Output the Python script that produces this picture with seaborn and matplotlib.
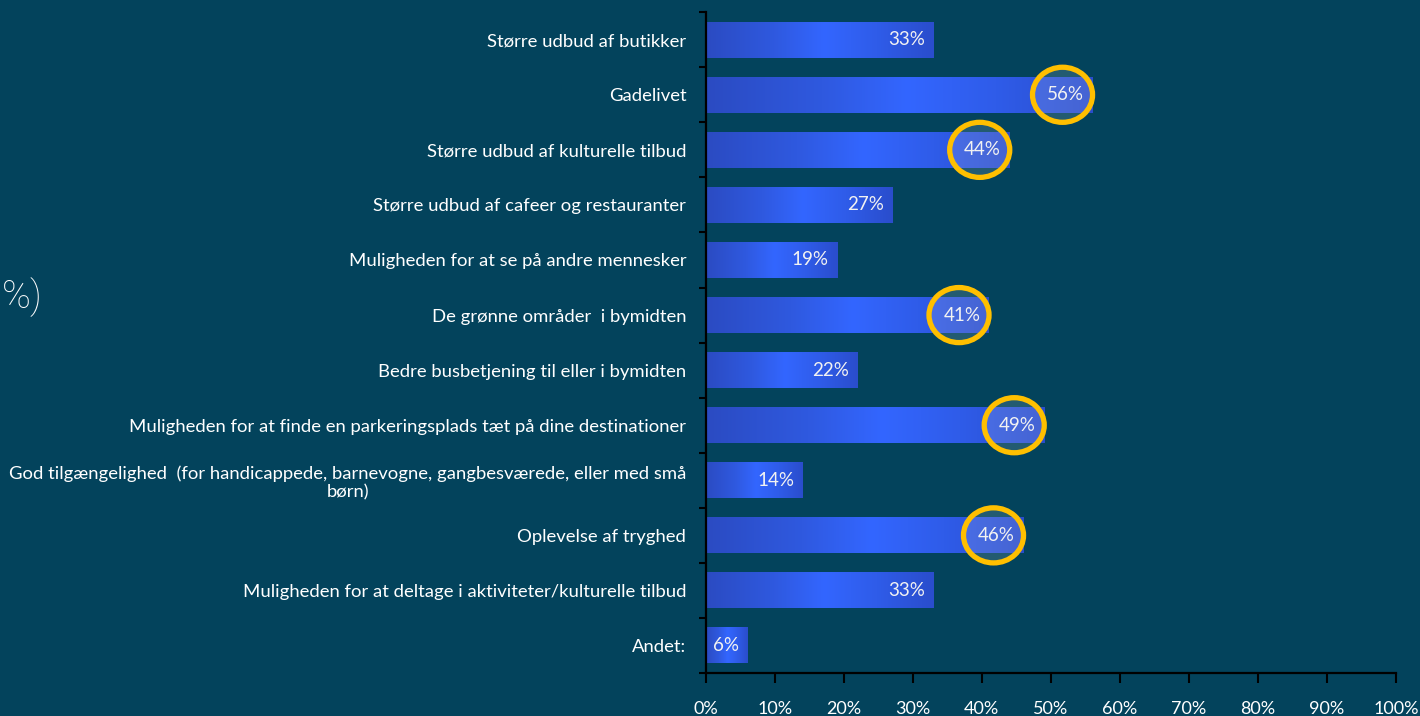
import matplotlib.pyplot as plt
import seaborn as sns
import pandas as pd
import numpy as np
from matplotlib.colors import LinearSegmentedColormap
from matplotlib.patches import Ellipse
from matplotlib.ticker import FixedLocator

# data
categories = [
    "Større udbud af butikker",
    "Gadelivet",
    "Større udbud af kulturelle tilbud",
    "Større udbud af cafeer og restauranter",
    "Muligheden for at se på andre mennesker",
    "De grønne områder  i bymidten",
    "Bedre busbetjening til eller i bymidten",
    "Muligheden for at finde en parkeringsplads tæt på dine destinationer",
    "God tilgængelighed  (for handicappede, barnevogne, gangbesværede, eller med små\nbørn)",
    "Oplevelse af tryghed",
    "Muligheden for at deltage i aktiviteter/kulturelle tilbud",
    "Andet:",
]
values = [33, 56, 44, 27, 19, 41, 22, 49, 14, 46, 33, 6]
highlighted = [False, True, True, False, False, True, False, True, False, True, False, False]
x_ticks = list(range(0, 101, 10))

bg = "#03435c"
sns.set_theme(style="white")
plt.rcParams["font.family"] = ["Lato", "DejaVu Sans"]

df = pd.DataFrame({"kategori": categories, "andel": values})

fig = plt.figure(figsize=(14.2, 7.16), dpi=100, facecolor=bg)
ax = fig.add_axes([0.497, 0.060, 0.486, 0.923])
ax.set_facecolor(bg)

sns.barplot(data=df, y="kategori", x="andel", orient="h", width=0.65,
            color="#3366ff", ax=ax)

# horizontal gradient inside each bar (dark - bright - dark)
grad = LinearSegmentedColormap.from_list(
    "bar", [(0.0, "#2b4bc2"), (0.3, "#2f59df"), (0.52, "#3366ff"),
            (0.75, "#2f5ce9"), (1.0, "#2a4dcc")])
for p in ax.patches:
    x0, y0 = p.get_x(), p.get_y()
    w, h = p.get_width(), p.get_height()
    p.set_facecolor("none")
    p.set_edgecolor("none")
    ax.imshow(np.linspace(0, 1, 256).reshape(1, -1), cmap=grad, aspect="auto",
              extent=[x0, x0 + w, y0 + h, y0], zorder=2, interpolation="bilinear")

for i, (v, hl) in enumerate(zip(values, highlighted)):
    ax.text(v - 1.2, i, f"{v}%", ha="right", va="center", color="#f2f2f2",
            fontsize=13.5, zorder=5)
    if hl:
        ax.add_patch(Ellipse((v - 4.3, i), width=8.7, height=1.0,
                             facecolor=(1, 1, 1, 0.13), edgecolor="#ffbf00",
                             linewidth=3.8, zorder=4, clip_on=False))

ax.set_xlim(0, 100)
ax.set_ylim(len(categories) - 0.5, -0.5)
ax.set_xticks(x_ticks)
ax.set_xticklabels([f"{t}%" for t in x_ticks], color="white", fontsize=13)
ax.yaxis.set_minor_locator(FixedLocator(np.arange(-0.5, len(categories), 1)))
ax.tick_params(axis="y", which="major", length=0, pad=14, labelcolor="white",
               labelsize=13.3)
ax.tick_params(axis="y", which="minor", left=True, length=5, width=1.5,
               color="black", direction="out")
ax.tick_params(axis="x", bottom=True, length=7, width=1.5, color="black",
               direction="out", pad=13)
ax.set_xlabel("")
ax.set_ylabel("")

for s in ["top", "right"]:
    ax.spines[s].set_visible(False)
for s in ["left", "bottom"]:
    ax.spines[s].set_color("black")
    ax.spines[s].set_linewidth(1.6)

for lbl in ax.get_yticklabels():
    lbl.set_multialignment("center")

# partial slide title at the left edge
fig.text(0.001, 0.585, "%)", color="white", fontsize=28, fontweight="light",
         ha="left", va="center", family=["Roboto", "DejaVu Sans"])

fig.savefig("out.png", dpi=100, facecolor=bg)
